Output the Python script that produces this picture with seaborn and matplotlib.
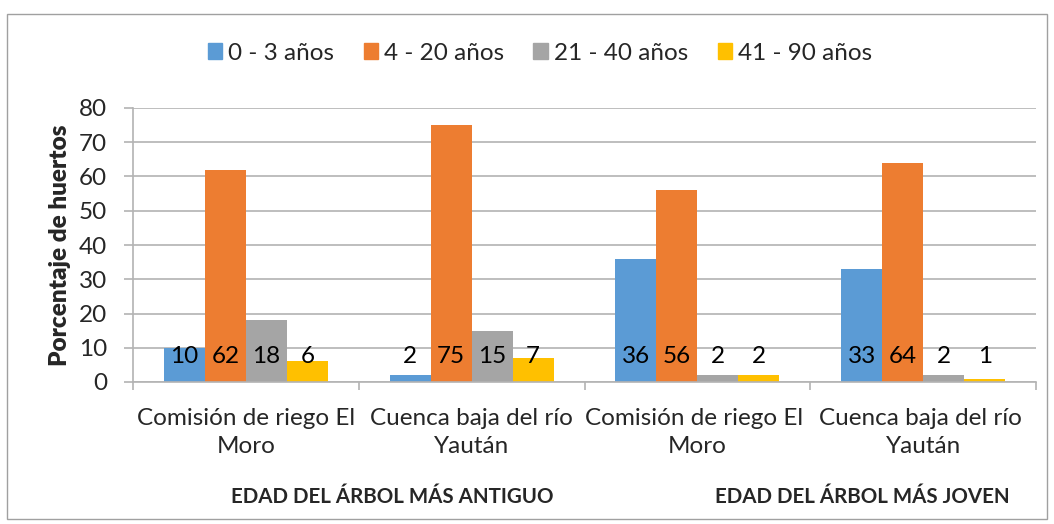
import matplotlib
matplotlib.use("Agg")
import matplotlib.pyplot as plt
import seaborn as sns
import pandas as pd
from matplotlib.patches import Rectangle
from matplotlib.ticker import MultipleLocator, FixedLocator

categories = ["Comisión de riego El\nMoro", "Cuenca baja del río\nYaután",
              "Comisión de riego El \nMoro", "Cuenca baja del río \nYaután"]
series = ["0 - 3 años", "4 - 20 años", "21 - 40 años", "41 - 90 años"]
v_0_3 = [10, 2, 36, 33]
v_4_20 = [62, 75, 56, 64]
v_21_40 = [18, 15, 2, 2]
v_41_90 = [6, 7, 2, 1]
groups = ["EDAD DEL ÁRBOL MÁS ANTIGUO", "EDAD DEL ÁRBOL MÁS JOVEN"]
ylabel = "Porcentaje de huertos"
colors = ["#5B9BD5", "#ED7D31", "#A5A5A5", "#FFC000"]

values = [v_0_3, v_4_20, v_21_40, v_41_90]
rows = []
for s, vals in zip(series, values):
    for c, v in zip(categories, vals):
        rows.append({"cat": c, "serie": s, "val": v})
df = pd.DataFrame(rows)

sns.set_theme(style="white")
plt.rcParams["font.family"] = ["Lato", "DejaVu Sans"]

FS = 17.5
fig = plt.figure(figsize=(10.54, 5.24), dpi=100)
W, H = 1054, 524
ax = fig.add_axes([133 / W, 1 - 382 / H, (1036 - 133) / W, (382 - 108) / H])

sns.barplot(data=df, x="cat", y="val", hue="serie", order=categories,
            hue_order=series, palette=colors, width=0.727, saturation=1,
            edgecolor="none", linewidth=0, ax=ax, legend=False)

ax.set_ylim(0, 80)
ax.set_xlim(-0.5, 3.5)
ax.yaxis.set_major_locator(MultipleLocator(10))
gc = "#B3B3B3"
ax.grid(axis="y", color=gc, linewidth=1.2)
ax.set_axisbelow(True)
for sp in ["top", "right"]:
    ax.spines[sp].set_visible(False)
for sp in ["left", "bottom"]:
    ax.spines[sp].set_color(gc)
    ax.spines[sp].set_linewidth(1.2)

ax.tick_params(axis="y", which="major", length=6.5, color=gc, width=1.2,
               labelsize=FS, pad=12, left=True, direction="out")
ax.tick_params(axis="x", which="major", length=0, labelsize=FS, pad=18.5)
ax.xaxis.set_minor_locator(FixedLocator([-0.5, 0.5, 1.5, 2.5, 3.5]))
ax.tick_params(axis="x", which="minor", length=6, color=gc, width=1.2,
               bottom=True, direction="out")
for lab in ax.get_xticklabels():
    lab.set_linespacing(1.45)
    lab.set_horizontalalignment("center")
ax.set_xlabel("")
ax.set_ylabel(ylabel, fontsize=17.5, fontweight="heavy", labelpad=6)

for cont, vals in zip(ax.containers, values):
    for bar, v in zip(cont, vals):
        ax.annotate(str(v), (bar.get_x() + bar.get_width() / 2, 0),
                    xytext=(0, 18.5), textcoords="offset points",
                    ha="center", va="center", fontsize=FS, color="black")

handles = [Rectangle((0, 0), 1, 1, color=c) for c in colors]
fig.legend(handles, series, loc="center", bbox_to_anchor=(540 / W, 1 - 53 / H),
           ncol=4, frameon=False, fontsize=FS, handlelength=0.6,
           handleheight=0.6, handletextpad=0.25, columnspacing=1.2)

fig.text(392 / W, 1 - 497 / H, groups[0], ha="center", va="center",
         fontsize=14.8, fontweight="bold")
fig.text(862 / W, 1 - 497 / H, groups[1], ha="center", va="center",
         fontsize=14.8, fontweight="bold")

fig.patches.append(Rectangle((7 / W, 1 - 519 / H), (1047 - 7) / W, (519 - 14) / H,
                             transform=fig.transFigure, fill=False,
                             edgecolor="#A0A0A0", linewidth=1))

fig.savefig("out.png", dpi=100)
